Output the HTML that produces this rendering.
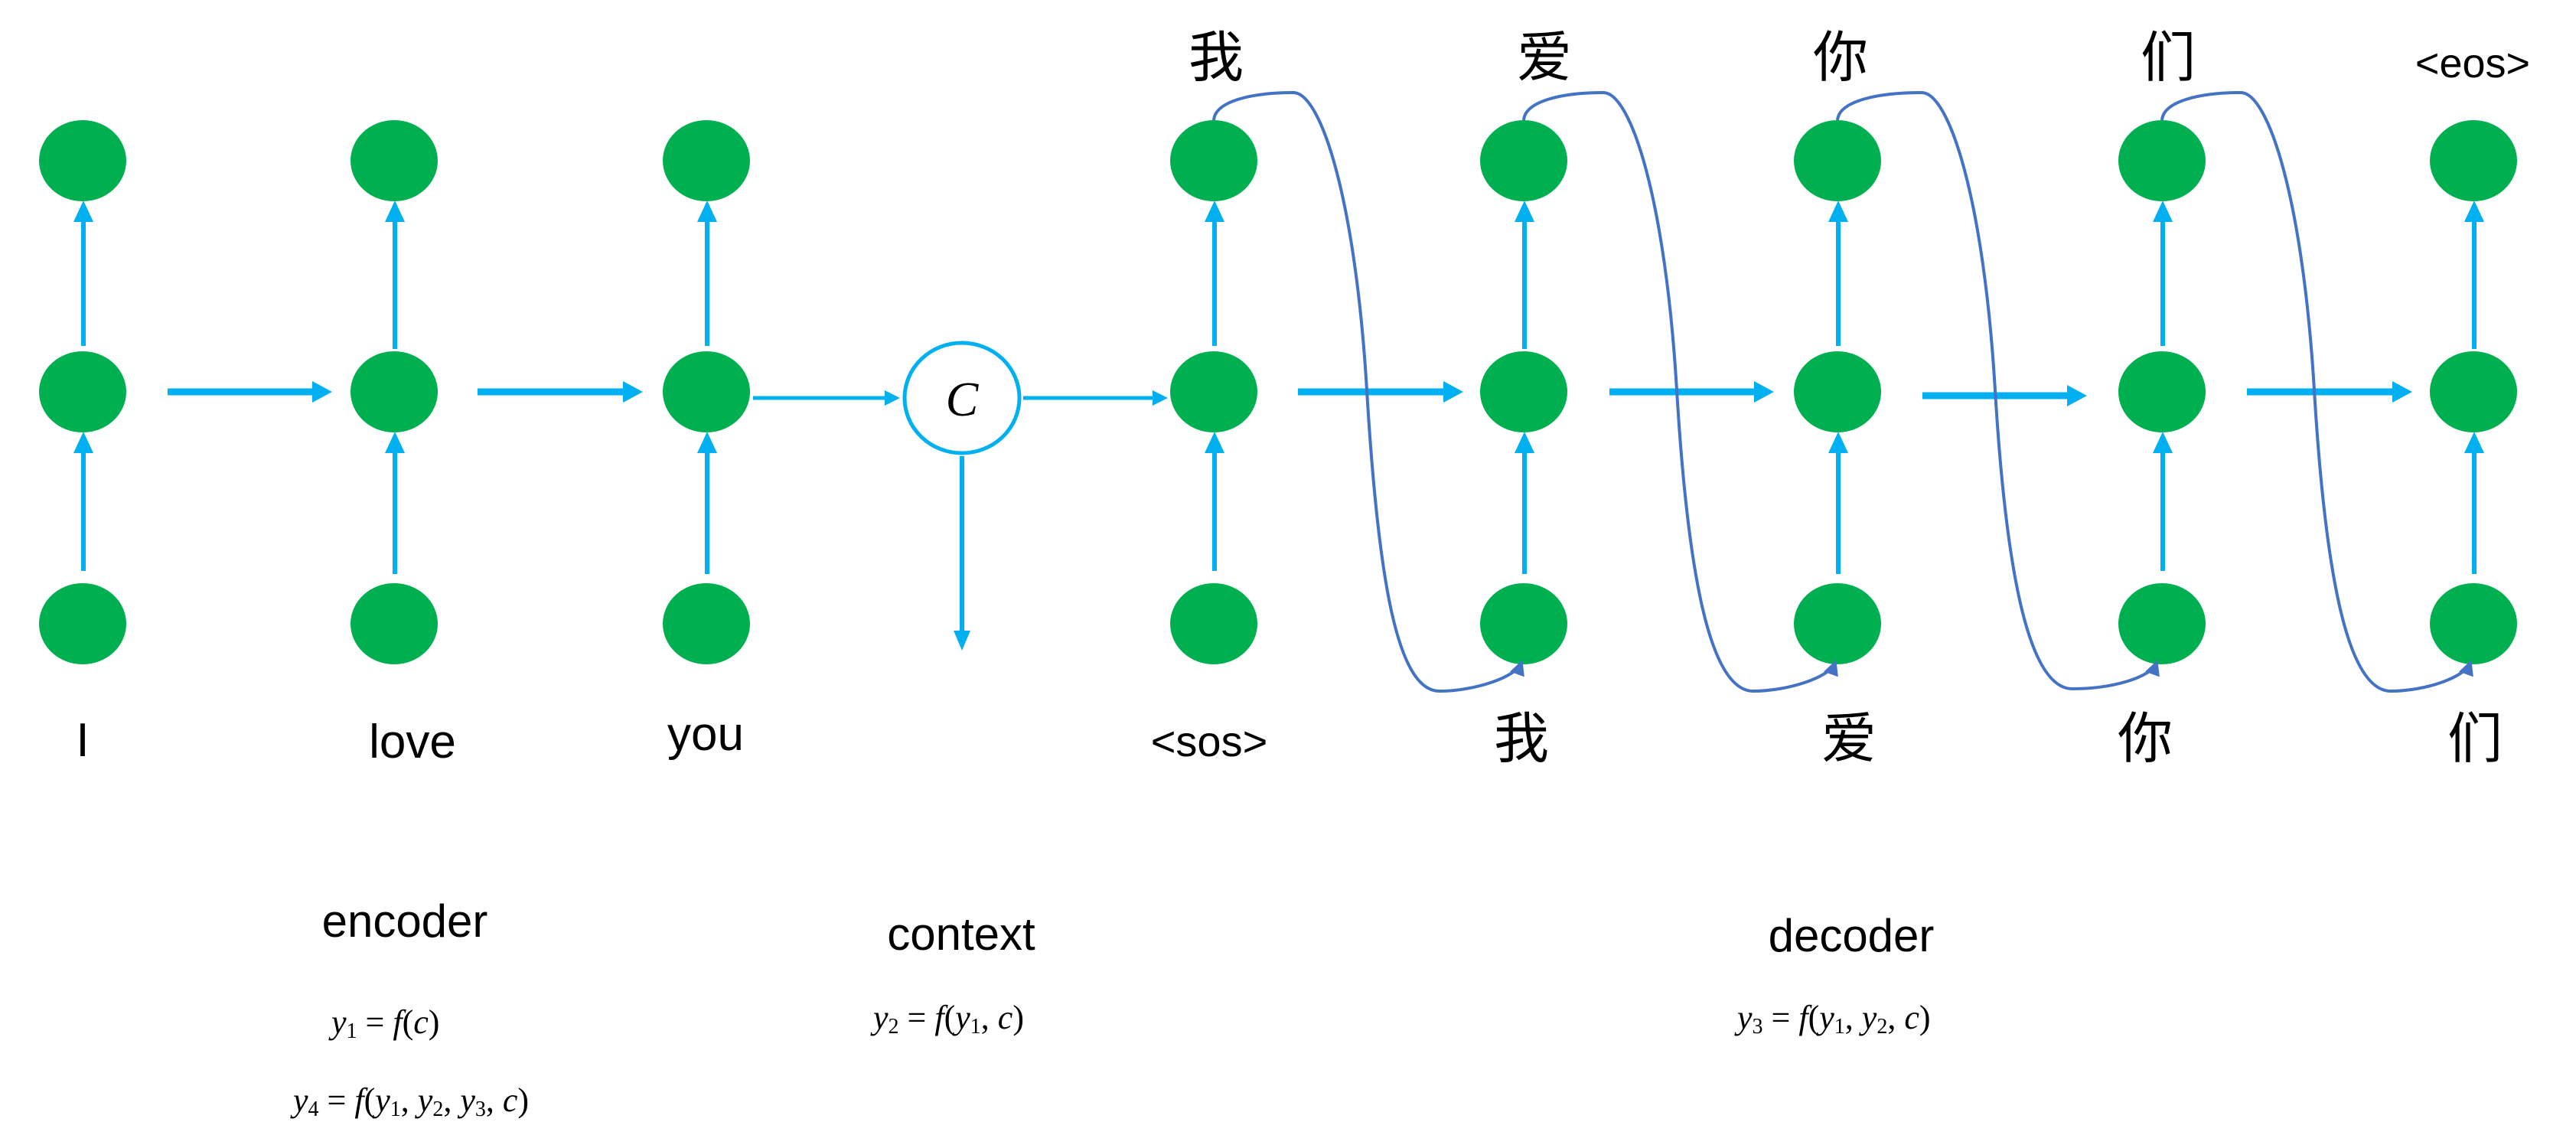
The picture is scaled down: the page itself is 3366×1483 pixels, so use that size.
<!DOCTYPE html>
<html><head><meta charset="utf-8"><style>
html,body{margin:0;padding:0;background:#fff;}
svg{display:block;}
.t{font-family:"Liberation Sans","Noto Sans CJK SC",sans-serif;fill:#000;}
.m{font-family:"Liberation Serif",serif;font-style:italic;fill:#000;}
</style></head><body>
<svg width="3366" height="1483" viewBox="0 0 3366 1483" xmlns="http://www.w3.org/2000/svg">
<defs>
<marker id="cm" markerWidth="5" markerHeight="5" refX="4" refY="2.5" orient="auto" markerUnits="strokeWidth">
<path d="M0,0 L5,2.5 L0,5 z" fill="#4472C4"/></marker>
</defs>
<g fill="#00B050">
<ellipse cx="108" cy="210" rx="57" ry="53"/><ellipse cx="108" cy="512" rx="57" ry="53"/><ellipse cx="108" cy="815" rx="57" ry="53"/>
<ellipse cx="515" cy="210" rx="57" ry="53"/><ellipse cx="515" cy="512" rx="57" ry="53"/><ellipse cx="515" cy="815" rx="57" ry="53"/>
<ellipse cx="923" cy="210" rx="57" ry="53"/><ellipse cx="923" cy="512" rx="57" ry="53"/><ellipse cx="923" cy="815" rx="57" ry="53"/>
<ellipse cx="1586" cy="210" rx="57" ry="53"/><ellipse cx="1586" cy="512" rx="57" ry="53"/><ellipse cx="1586" cy="815" rx="57" ry="53"/>
<ellipse cx="1991" cy="210" rx="57" ry="53"/><ellipse cx="1991" cy="512" rx="57" ry="53"/><ellipse cx="1991" cy="815" rx="57" ry="53"/>
<ellipse cx="2401" cy="210" rx="57" ry="53"/><ellipse cx="2401" cy="512" rx="57" ry="53"/><ellipse cx="2401" cy="815" rx="57" ry="53"/>
<ellipse cx="2825" cy="210" rx="57" ry="53"/><ellipse cx="2825" cy="512" rx="57" ry="53"/><ellipse cx="2825" cy="815" rx="57" ry="53"/>
<ellipse cx="3232" cy="210" rx="57" ry="53"/><ellipse cx="3232" cy="512" rx="57" ry="53"/><ellipse cx="3232" cy="815" rx="57" ry="53"/>
</g>
<ellipse cx="1257" cy="520" rx="75" ry="72" fill="#fff" stroke="#00B0F0" stroke-width="5"/>
<text x="1257" y="543" class="m" font-size="64" text-anchor="middle">C</text>
<g stroke="#00B0F0" stroke-width="6" fill="none">
<path d="M109,746V588M109,452V286"/>
<path d="M516,750V588M516,456V286"/>
<path d="M924,750V588M924,452V286"/>
<path d="M1587,746V588M1587,452V286"/>
<path d="M1992,750V588M1992,456V286"/>
<path d="M2402,750V588M2402,452V286"/>
<path d="M2826,746V588M2826,452V286"/>
<path d="M3233,750V588M3233,456V286"/>
<path d="M1257,596V830"/>
</g>
<g stroke="#00B0F0" stroke-width="9" fill="none">
<path d="M219,512H412M624,512H818M1696,512H1890M2103,512H2296M2512,517H2705M2936,512H3130"/>
</g>
<g stroke="#00B0F0" stroke-width="5" fill="none">
<path d="M984,520H1160M1337,520H1510"/>
</g>
<g fill="#00B0F0">
<path d="M96,290L109,262L122,290z M96,592L109,564L122,592z"/>
<path d="M503,290L516,262L529,290z M503,592L516,564L529,592z"/>
<path d="M911,290L924,262L937,290z M911,592L924,564L937,592z"/>
<path d="M1574,290L1587,262L1600,290z M1574,592L1587,564L1600,592z"/>
<path d="M1979,290L1992,262L2005,290z M1979,592L1992,564L2005,592z"/>
<path d="M2389,290L2402,262L2415,290z M2389,592L2402,564L2415,592z"/>
<path d="M2813,290L2826,262L2839,290z M2813,592L2826,564L2839,592z"/>
<path d="M3220,290L3233,262L3246,290z M3220,592L3233,564L3246,592z"/>
<path d="M1246,824L1257,850L1268,824z"/>
<path d="M408,498L434,512L408,526z M814,498L840,512L814,526z M1886,498L1912,512L1886,526z M2292,498L2318,512L2292,526z M2701,503L2727,517L2701,531z M3126,498L3152,512L3126,526z"/>
<path d="M1156,510L1176,520L1156,530z M1506,510L1526,520L1506,530z"/>
</g>
<g stroke="#4472C4" stroke-width="4" fill="none" marker-end="url(#cm)">
<path d="M1586,157 C1588,132 1636,121 1690,121 C1726,121 1771,260 1786,510 C1801,760 1826,903 1881,903 C1926,903 1981,885 1988,866"/>
<path d="M1991,157 C1993,132 2041,121 2095,121 C2131,121 2176,260 2191,510 C2206,760 2236,903 2291,903 C2336,903 2391,885 2398,866"/>
<path d="M2401,157 C2403,132 2453,121 2511,121 C2547,121 2592,260 2607,510 C2622,760 2653,900 2708,900 C2760,900 2811,885 2818,866"/>
<path d="M2825,157 C2827,132 2875,121 2928,121 C2964,121 3009,260 3024,510 C3039,760 3069,903 3124,903 C3169,903 3221,885 3228,866"/>
</g>
<g class="t" text-anchor="middle">
<text x="1589" y="100" font-size="72">我</text>
<text x="2018" y="100" font-size="72">爱</text>
<text x="2405" y="100" font-size="72">你</text>
<text x="2833" y="100" font-size="72">们</text>
<text x="3231" y="101" font-size="54">&lt;eos&gt;</text>
<text x="108" y="988" font-size="62">I</text>
<text x="539" y="990" font-size="62">love</text>
<text x="922" y="980" font-size="62">you</text>
<text x="1580" y="988" font-size="56">&lt;sos&gt;</text>
<text x="1988" y="990" font-size="72">我</text>
<text x="2416" y="990" font-size="72">爱</text>
<text x="2803" y="990" font-size="72">你</text>
<text x="3234" y="990" font-size="72">们</text>
<text x="529" y="1224" font-size="60">encoder</text>
<text x="1256" y="1241" font-size="60">context</text>
<text x="2419" y="1243" font-size="60">decoder</text>
</g>
<g class="m" font-size="44">
<text x="433" y="1350">y<tspan font-size="28" dy="6" font-style="normal">1</tspan><tspan dy="-6" font-style="normal"> = </tspan>f<tspan font-style="normal">(</tspan>c<tspan font-style="normal">)</tspan></text>
<text x="1141" y="1344">y<tspan font-size="28" dy="6" font-style="normal">2</tspan><tspan dy="-6" font-style="normal"> = </tspan>f<tspan font-style="normal">(</tspan>y<tspan font-size="28" dy="6" font-style="normal">1</tspan><tspan dy="-6" font-style="normal">, </tspan>c<tspan font-style="normal">)</tspan></text>
<text x="2270" y="1344">y<tspan font-size="28" dy="6" font-style="normal">3</tspan><tspan dy="-6" font-style="normal"> = </tspan>f<tspan font-style="normal">(</tspan>y<tspan font-size="28" dy="6" font-style="normal">1</tspan><tspan dy="-6" font-style="normal">, </tspan>y<tspan font-size="28" dy="6" font-style="normal">2</tspan><tspan dy="-6" font-style="normal">, </tspan>c<tspan font-style="normal">)</tspan></text>
<text x="383" y="1452">y<tspan font-size="28" dy="6" font-style="normal">4</tspan><tspan dy="-6" font-style="normal"> = </tspan>f<tspan font-style="normal">(</tspan>y<tspan font-size="28" dy="6" font-style="normal">1</tspan><tspan dy="-6" font-style="normal">, </tspan>y<tspan font-size="28" dy="6" font-style="normal">2</tspan><tspan dy="-6" font-style="normal">, </tspan>y<tspan font-size="28" dy="6" font-style="normal">3</tspan><tspan dy="-6" font-style="normal">, </tspan>c<tspan font-style="normal">)</tspan></text>
</g>
</svg>
</body></html>
